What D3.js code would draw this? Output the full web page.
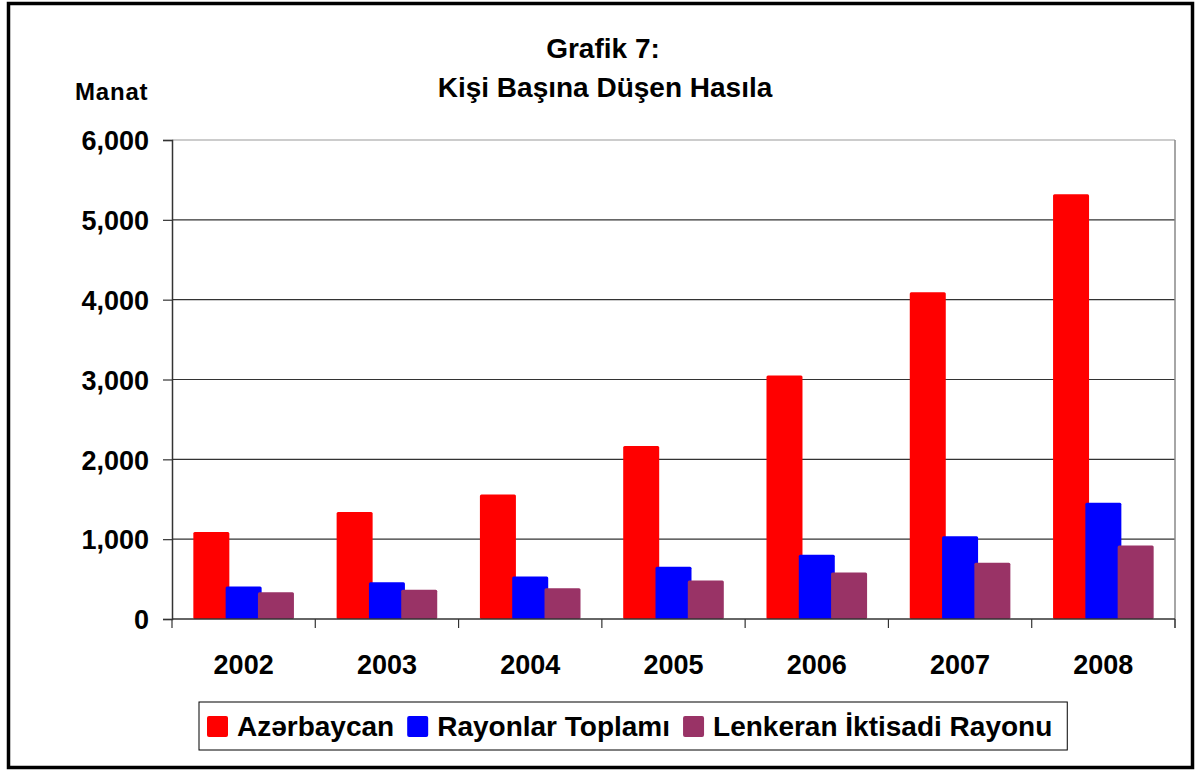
<!DOCTYPE html>
<html lang="tr">
  <head>
    <meta charset="utf-8">
    <title>Grafik 7</title>
    <script src="https://d3js.org/d3.v7.min.js"></script>
    <style>
      body{ margin:0; background:#fff; }
      text{ font-family:"Liberation Sans", Arial, sans-serif; font-weight:bold; fill:#000; }
    </style>
  </head>
  <body>
    <svg id="chart"></svg>
    <script>
      // data
      var years = ["2002","2003","2004","2005","2006","2007","2008"];
      var seriesNames = ["Azərbaycan","Rayonlar Toplamı","Lenkeran İktisadi Rayonu"];
      var seriesColors = ["#ff0000","#0000ff","#993366"];
      var azerbaycan = [1090, 1340, 1560, 2167, 3050, 4094, 5319];
      var rayonlar = [408, 461, 533, 654, 805, 1038, 1457];
      var lenkeran = [336, 366, 386, 483, 583, 705, 922];
      var yTicks = [0, 1000, 2000, 3000, 4000, 5000, 6000];

      var W = 1196, H = 771;
      var plotLeft = 172, plotRight = 1175, plotTop = 140, plotBottom = 619;

      var svg = d3.select("#chart").attr("width", W).attr("height", H);

      // outer frame
      svg.append("rect")
         .attr("x", 8.5).attr("y", 3.5)
         .attr("width", 1184).attr("height", 764)
         .attr("fill", "#fff").attr("stroke", "#000").attr("stroke-width", 3.5);

      var x0 = d3.scaleBand().domain(years).range([plotLeft, plotRight]).padding(0);
      var x1 = d3.scalePoint().domain(seriesNames).range([-32.3, 32.3]);
      var barW = 36;
      var y = d3.scaleLinear().domain([0, 6000]).range([plotBottom, plotTop]);

      // gridlines
      svg.selectAll("line.grid")
         .data(yTicks.filter(function(d){ return d > 0; }))
         .enter()
         .append("line")
         .attr("class", "grid")
         .attr("x1", plotLeft).attr("x2", plotRight)
         .attr("y1", function(d){ return y(d); })
         .attr("y2", function(d){ return y(d); })
         .attr("stroke", function(d){ return d === 6000 ? "#999" : "#333"; })
         .attr("stroke-width", 1.2);

      // right border of plot
      svg.append("line")
         .attr("x1", plotRight).attr("x2", plotRight)
         .attr("y1", plotTop).attr("y2", plotBottom + 9)
         .attr("stroke", "#888").attr("stroke-width", 1.5);

      // bars
      var rows = years.map(function(yr, i){
        return [azerbaycan[i], rayonlar[i], lenkeran[i]].map(function(v, j){
          return {year: yr, name: seriesNames[j], color: seriesColors[j], value: v};
        });
      });
      var groups = svg.selectAll("g.year")
         .data(rows)
         .enter()
         .append("g")
         .attr("class", "year")
         .attr("transform", function(d){ return "translate(" + (x0(d[0].year) + x0.bandwidth()/2) + ",0)"; });
      groups.selectAll("rect")
         .data(function(d){ return d; })
         .enter()
         .append("rect")
         .attr("x", function(d){ return x1(d.name) - barW/2; })
         .attr("y", function(d){ return y(d.value); })
         .attr("width", barW)
         .attr("height", function(d){ return y(0) - y(d.value); })
         .attr("rx", 1.5)
         .attr("fill", function(d){ return d.color; });

      // y axis
      var yAxis = svg.append("g")
         .attr("transform", "translate(" + plotLeft + ",0)")
         .call(d3.axisLeft(y).tickValues(yTicks).tickSize(9).tickPadding(14)
           .tickFormat(d3.format(",")));
      yAxis.select(".domain").attr("stroke", "#333").attr("stroke-width", 1.5);
      yAxis.selectAll(".tick line").attr("stroke", "#333").attr("stroke-width", 1.2);
      yAxis.selectAll(".tick text")
         .attr("font-size", 27).attr("font-family", "Liberation Sans, Arial, sans-serif")
         .attr("font-weight", "bold").attr("fill", "#000").attr("dy", "0.36em");

      // x axis baseline and boundary ticks
      svg.append("line")
         .attr("x1", plotLeft).attr("x2", plotRight)
         .attr("y1", plotBottom).attr("y2", plotBottom)
         .attr("stroke", "#333").attr("stroke-width", 1.5);
      var bounds = years.map(function(d){ return x0(d); }).concat([plotRight]);
      svg.selectAll("line.xtick")
         .data(bounds)
         .enter()
         .append("line")
         .attr("class", "xtick")
         .attr("x1", function(d){ return d; }).attr("x2", function(d){ return d; })
         .attr("y1", plotBottom).attr("y2", plotBottom + 9)
         .attr("stroke", "#333").attr("stroke-width", 1.2);
      svg.selectAll("text.year")
         .data(years)
         .enter()
         .append("text")
         .attr("class", "year")
         .attr("x", function(d){ return x0(d) + x0.bandwidth()/2; })
         .attr("y", 674)
         .attr("text-anchor", "middle")
         .attr("font-size", 27)
         .text(function(d){ return d; });

      // titles
      svg.append("text").attr("x", 603).attr("y", 58)
         .attr("text-anchor", "middle").attr("font-size", 28).text("Grafik 7:");
      svg.append("text").attr("x", 605).attr("y", 97)
         .attr("text-anchor", "middle").attr("font-size", 28).text("Kişi Başına Düşen Hasıla");
      svg.append("text").attr("x", 75).attr("y", 100)
         .attr("font-size", 24).attr("letter-spacing", 0.8).text("Manat");

      // legend
      var legend = svg.append("g");
      var box = legend.append("rect")
         .attr("x", 199).attr("y", 702).attr("height", 48)
         .attr("fill", "#fff").attr("stroke", "#000").attr("stroke-width", 1);
      var lx = 207;
      seriesNames.forEach(function(name, i){
        legend.append("rect")
           .attr("x", lx).attr("y", 716).attr("width", 21).attr("height", 21)
           .attr("rx", 2).attr("fill", seriesColors[i]);
        var t = legend.append("text")
           .attr("x", lx + 30).attr("y", 736)
           .attr("font-size", 28).text(name);
        lx = lx + 30 + t.node().getComputedTextLength() + 13;
      });
      box.attr("width", lx - 199 + 2);
    </script>
  </body>
</html>
